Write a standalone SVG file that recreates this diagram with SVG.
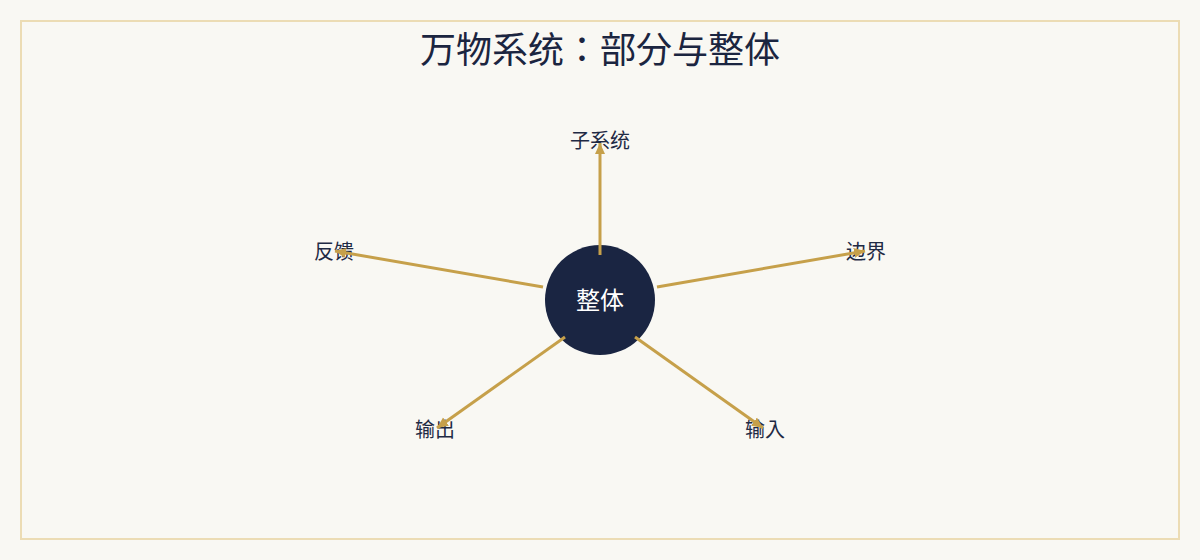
<svg xmlns="http://www.w3.org/2000/svg" width="1200" height="560" viewBox="0 0 1200 560">
<style>
.title{font-family:"Noto Sans CJK JP","Noto Sans CJK SC",sans-serif;font-size:36px;fill:#1b2540;text-anchor:middle}
.lbl{font-family:"Noto Sans CJK JP","Noto Sans CJK SC",sans-serif;font-size:20px;fill:#1f2a44;text-anchor:middle;dominant-baseline:central}
.ctr{font-family:"Noto Sans CJK JP","Noto Sans CJK SC",sans-serif;font-size:24px;fill:#ffffff;text-anchor:middle;dominant-baseline:central}
.conn{stroke:#c6a04a;stroke-width:3;fill:none;marker-end:url(#arr)}
</style>
<defs>
<marker id="arr" markerUnits="userSpaceOnUse" markerWidth="12" markerHeight="12" viewBox="0 0 12 12" refX="11" refY="6" orient="auto">
<path d="M0,1 L11,6 L0,11 Z" fill="#c6a04a"/>
</marker>
</defs>
<rect x="0" y="0" width="1200" height="560" fill="#f9f8f3"/>
<rect x="21" y="21" width="1158" height="518" fill="none" stroke="#ecdcb4" stroke-width="2"/>
<text class="title" x="600" y="63">万物系统：部分与整体</text>
<g id="node-center">
<circle cx="600" cy="300" r="55" fill="#1a2542"/>
<text class="ctr" x="600" y="298">整体</text>
</g>
<g id="node-subsystem"><text class="lbl" x="600" y="139">子系统</text></g>
<g id="node-boundary"><text class="lbl" x="866" y="250">边界</text></g>
<g id="node-input"><text class="lbl" x="765" y="428">输入</text></g>
<g id="node-output"><text class="lbl" x="435" y="428">输出</text></g>
<g id="node-feedback"><text class="lbl" x="334" y="250">反馈</text></g>
<g id="connectors">
<line class="conn" x1="600" y1="255" x2="600" y2="143"/>
<line class="conn" x1="657" y1="287" x2="865" y2="251"/>
<line class="conn" x1="635" y1="337" x2="763" y2="428"/>
<line class="conn" x1="565" y1="337" x2="437" y2="428"/>
<line class="conn" x1="543" y1="287" x2="335" y2="251"/>
</g>
</svg>
